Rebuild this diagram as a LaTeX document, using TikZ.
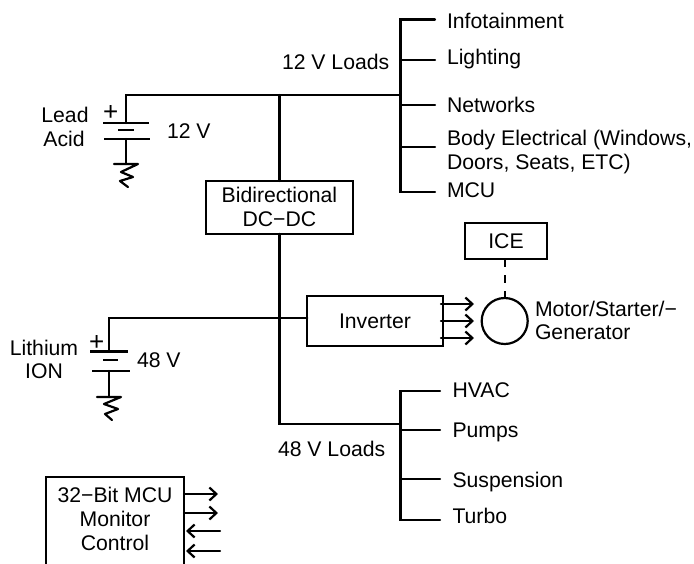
\documentclass[tikz,border=0pt]{standalone}
\usepackage{fontspec}
\setmainfont{Liberation Sans}
\usetikzlibrary{arrows.meta}
\tikzset{
  wire/.style={line width=2.2pt,line cap=round,line join=miter},
  arr/.style={wire,-{Straight Barb[length=7pt,width=13pt,line width=2.2pt]}},
  lbl/.style={inner sep=0pt,outer sep=0pt,anchor=base west,font=\fontsize{21.2}{24}\selectfont},
  clbl/.style={lbl,anchor=base,align=center},
  plus/.style={clbl,font=\fontsize{26}{26}\selectfont},
  box/.style={draw,line width=2.2pt,inner sep=0pt,outer sep=0pt,align=center,font=\fontsize{21.2}{24}\selectfont},
  plate/.style={line width=2.2pt},
  motor/.style={circle,draw,line width=2.2pt,inner sep=0pt,minimum size=46pt,outer sep=0pt}
}
\begin{document}
\begin{tikzpicture}[x=1pt,y=-1pt]
\useasboundingbox (0,0) rectangle (694,563);
\begin{scope}
\clip (0,0) rectangle (694,563);
% boxes
\node[box,minimum width=146.5pt,minimum height=53pt] (dcdc) at (279.4,207.4) {Bidirectional\\[0pt]DC−DC};
\node[box,minimum width=135.5pt,minimum height=50pt] (inv) at (375,321) {Inverter};
\node[box,minimum width=82pt,minimum height=36.5pt] (ice) at (506,241) {ICE};
\node[motor] (mot) at (504.7,321) {};
% 12 V side
\coordinate (bat1) at (126,123);
\coordinate (bat1b) at (126,139);
\coordinate (gnd1) at (126,164);
\coordinate (bus1) at (126,95);
\coordinate (j1) at (279.4,95);
\coordinate (t1) at (400.5,95);
\draw[wire] (bat1) -- (bus1) -- (t1);
\draw[wire] (j1) -- (dcdc.north -| j1);
\draw[plate] (103,123) -- (149,123);
\draw[plate] (118,130) -- (134,130);
\draw[plate] (104,139) -- (150,139);
\draw[wire] (bat1b) -- (gnd1);
\draw[wire,line join=round] (114,164) -- (138,164) -- (121,172) -- (133,177) -- (120,181) -- (128,187);
% 12 V loads
\coordinate (a1) at (400.5,19.5); \coordinate (a1e) at (435,19.5);
\coordinate (a2) at (400.5,60);   \coordinate (a2e) at (435,60);
\coordinate (a3) at (400.5,105);  \coordinate (a3e) at (435,105);
\coordinate (a4) at (400.5,147);  \coordinate (a4e) at (435,147);
\coordinate (a5) at (400.5,192);  \coordinate (a5e) at (435,192);
\draw[wire] (a1e) -- (a1) -- (a5) -- (a5e);
\draw[wire] (a2) -- (a2e);
\draw[wire] (a3) -- (a3e);
\draw[wire] (a4) -- (a4e);
% 48 V side
\coordinate (j2) at (279.4,318.3);
\coordinate (c) at (279.4,424);
\coordinate (t2) at (400.5,424);
\coordinate (bus2) at (109,318.3);
\coordinate (bat2) at (109,351);
\coordinate (bat2b) at (109,371);
\coordinate (gnd2) at (109,397);
\draw[wire] (dcdc.south -| j2) -- (c) -- (t2);
\draw[wire] (bat2) -- (bus2) -- (inv.west |- bus2);
\draw[plate] (90,351.5) -- (128,351.5);
\draw[plate] (103,360) -- (118,360);
\draw[plate] (92,371) -- (130,371);
\draw[wire] (bat2b) -- (gnd2);
\draw[wire,line join=round] (97,397) -- (121,397) -- (104,404) -- (118,409) -- (105,414) -- (112,420);
% 48 V loads
\coordinate (b1) at (400.5,390.7); \coordinate (b1e) at (440,390.7);
\coordinate (b2) at (400.5,430);   \coordinate (b2e) at (440,430);
\coordinate (b3) at (400.5,479);   \coordinate (b3e) at (440,479);
\coordinate (b4) at (400.5,520);   \coordinate (b4e) at (440,520);
\draw[wire] (b1e) -- (b1) -- (b4) -- (b4e);
\draw[wire] (b2) -- (b2e);
\draw[wire] (b3) -- (b3e);
% inverter outputs
\coordinate (o1) at (441,304); \coordinate (o1e) at (474,304);
\coordinate (o2) at (441,321); \coordinate (o2e) at (474,321);
\coordinate (o3) at (441,338); \coordinate (o3e) at (474,338);
\draw[arr] (o1) -- (o1e);
\draw[arr] (o2) -- (o2e);
\draw[arr] (o3) -- (o3e);
% ICE link
\draw[line width=2.2pt,dash pattern=on 8pt off 8pt] (ice.south -| mot.north) -- (mot.north);
% MCU
\coordinate (m1) at (46,565); \coordinate (m2) at (46,477);
\coordinate (m3) at (184,477); \coordinate (m4) at (184,565);
\draw[wire,line cap=butt] (m1) -- (m2) -- (m3) -- (m4);
\coordinate (p1) at (184,494); \coordinate (p1e) at (218,494);
\coordinate (p2) at (184,513); \coordinate (p2e) at (218,513);
\coordinate (p3) at (220,531); \coordinate (p3e) at (186,531);
\coordinate (p4) at (220,551); \coordinate (p4e) at (186,551);
\draw[arr] (p1) -- (p1e);
\draw[arr] (p2) -- (p2e);
\draw[arr] (p3) -- (p3e);
\draw[arr] (p4) -- (p4e);
\end{scope}
% labels
\node[lbl] (l1) at (447,28) {Infotainment};
\node[lbl] (l2) at (447,64) {Lighting};
\node[lbl] (l3) at (447,112) {Networks};
\node[lbl] (l4) at (447,145) {Body Electrical (Windows,};
\node[lbl] (l4b) at (447,169) {Doors, Seats, ETC)};
\node[lbl] (l5) at (447,197) {MCU};
\node[lbl] (l12) at (282,69) {12 V Loads};
\node[lbl] (l48) at (278,456) {48 V Loads};
\node[lbl] (h1) at (452.5,397) {HVAC};
\node[lbl] (h2) at (452.5,437) {Pumps};
\node[lbl] (h3) at (452.5,487) {Suspension};
\node[lbl] (h4) at (452.5,523) {Turbo};
\node[lbl] (m1t) at (535,316) {Motor/Starter/−};
\node[lbl] (m2t) at (535,339) {Generator};
\node[clbl] (la) at (65,122) {Lead};
\node[clbl] (lb) at (64,146) {Acid};
\node[lbl] (v12) at (167,138) {12 V};
\node[clbl] (li) at (44,355) {Lithium};
\node[clbl] (lj) at (44,378) {ION};
\node[lbl] (v48) at (137,367) {48 V};
\node[plus] (pl1) at (110.7,120) {+};
\node[plus] (pl2) at (96.7,350) {+};
\node[clbl] (c1) at (115,502) {32−Bit MCU};
\node[clbl] (c2) at (115,526) {Monitor};
\node[clbl] (c3) at (115,550) {Control};
\end{tikzpicture}
\end{document}
